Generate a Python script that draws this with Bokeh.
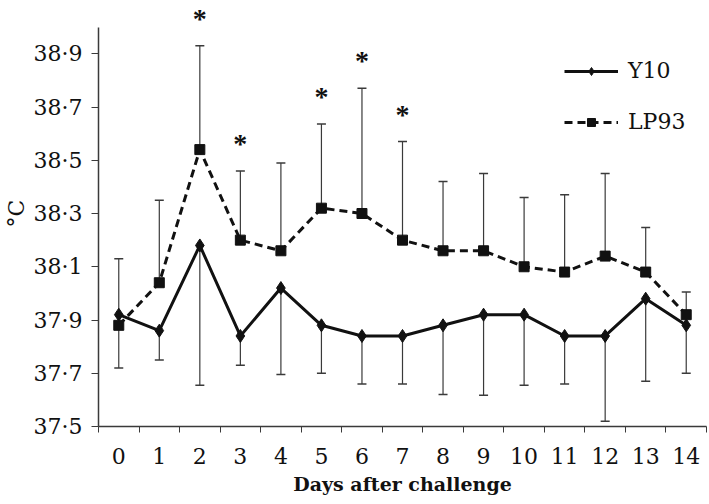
from bokeh.plotting import figure
from bokeh.models import Range1d, FixedTicker, ColumnDataSource, LabelSet, Legend, LegendItem
from bokeh.embed import file_html
from bokeh.resources import INLINE

# ---- data ----
days = list(range(15))
y10_mean = [37.92, 37.86, 38.18, 37.84, 38.02, 37.88, 37.84, 37.84, 37.88, 37.92, 37.92, 37.84, 37.84, 37.98, 37.88]
y10_lower = [37.72, 37.75, 37.655, 37.73, 37.695, 37.70, 37.66, 37.66, 37.62, 37.617, 37.655, 37.66, 37.52, 37.67, 37.70]
lp93_mean = [37.88, 38.04, 38.54, 38.20, 38.16, 38.32, 38.30, 38.20, 38.16, 38.16, 38.10, 38.08, 38.14, 38.08, 37.92]
lp93_upper = [38.13, 38.35, 38.93, 38.46, 38.49, 38.636, 38.77, 38.57, 38.42, 38.45, 38.36, 38.37, 38.45, 38.247, 38.005]
signif_days = [2, 3, 5, 6, 7]
y_ticks = [37.5, 37.7, 37.9, 38.1, 38.3, 38.5, 38.7, 38.9]
y_tick_labels = ["37·5", "37·7", "37·9", "38·1", "38·3", "38·5", "38·7", "38·9"]
x_label = "Days after challenge"
y_label = "°C"
series_names = ["Y10", "LP93"]

FONT = "DejaVu Serif"
INK = "#111111"
BAR = "#3a3a3a"

p = figure(width=709, height=504,
           x_range=Range1d(-0.5, 14.5), y_range=Range1d(37.5, 39.1),
           output_backend="svg", toolbar_location=None,
           min_border_left=98, min_border_right=3, min_border_top=0, min_border_bottom=78)
p.outline_line_color = None
p.grid.visible = False
p.background_fill_color = "white"

# error bars
p.segment(x0=days, y0=y10_mean, x1=days, y1=y10_lower, line_color=BAR, line_width=1.2)
p.scatter(x=days, y=y10_lower, marker="dash", size=9, line_color=BAR, line_width=1.5)
p.segment(x0=days, y0=lp93_mean, x1=days, y1=lp93_upper, line_color=BAR, line_width=1.2)
p.scatter(x=days, y=lp93_upper, marker="dash", size=9, line_color=BAR, line_width=1.5)

# series
l1 = p.line(days, y10_mean, line_color=INK, line_width=3)
s1 = p.scatter(days, y10_mean, marker="diamond", size=13, fill_color=INK, line_color=INK)
l2 = p.line(days, lp93_mean, line_color=INK, line_width=3, line_dash="8 5")
s2 = p.scatter(days, lp93_mean, marker="square", size=10, fill_color=INK, line_color=INK, line_width=1)

# significance asterisks above the LP93 error bars
sig_src = ColumnDataSource(dict(x=signif_days,
                                y=[lp93_upper[d] for d in signif_days],
                                t=["*"] * len(signif_days)))
p.add_layout(LabelSet(x="x", y="y", text="t", source=sig_src, y_offset=18,
                      text_align="center", text_baseline="alphabetic",
                      text_font=FONT, text_font_size="28px", text_font_style="bold",
                      text_color=INK))

# axes
xa = p.xaxis[0]
xa.ticker = FixedTicker(ticks=days, minor_ticks=[d - 0.5 for d in days] + [14.5])
xa.major_tick_line_color = None
xa.minor_tick_line_color = BAR
xa.minor_tick_out = 6
xa.minor_tick_in = 0
xa.axis_line_color = BAR
xa.axis_line_width = 1.5
xa.major_label_text_font = FONT
xa.major_label_text_font_size = "22px"
xa.major_label_text_color = INK
xa.major_label_standoff = 15
xa.axis_label = x_label
xa.axis_label_text_font = FONT
xa.axis_label_text_font_size = "19px"
xa.axis_label_text_font_style = "bold"
xa.axis_label_text_color = INK
xa.axis_label_standoff = 6

ya = p.yaxis[0]
ya.bounds = (37.5, 39.0)
ya.ticker = FixedTicker(ticks=y_ticks)
ya.major_label_overrides = dict(zip(y_ticks, y_tick_labels))
ya.minor_tick_line_color = None
ya.major_tick_line_color = BAR
ya.major_tick_out = 7
ya.major_tick_in = 0
ya.axis_line_color = BAR
ya.axis_line_width = 1.5
ya.major_label_text_font = FONT
ya.major_label_text_font_size = "22px"
ya.major_label_text_color = INK
ya.major_label_standoff = 9
ya.axis_label = y_label
ya.axis_label_text_font = FONT
ya.axis_label_text_font_size = "22px"
ya.axis_label_text_font_style = "normal"
ya.axis_label_text_color = INK
ya.axis_label_standoff = 2

legend = Legend(items=[LegendItem(label=series_names[0], renderers=[l1, s1]),
                       LegendItem(label=series_names[1], renderers=[l2, s2])],
                location=(466, 292), orientation="vertical",
                glyph_width=54, glyph_height=20, label_height=20, label_width=40,
                label_standoff=10, spacing=26, padding=0, margin=0,
                border_line_color=None, background_fill_alpha=0,
                label_text_font=FONT, label_text_font_size="22px", label_text_color=INK)
p.add_layout(legend)

open("out.html", "w").write(file_html(p, INLINE))
